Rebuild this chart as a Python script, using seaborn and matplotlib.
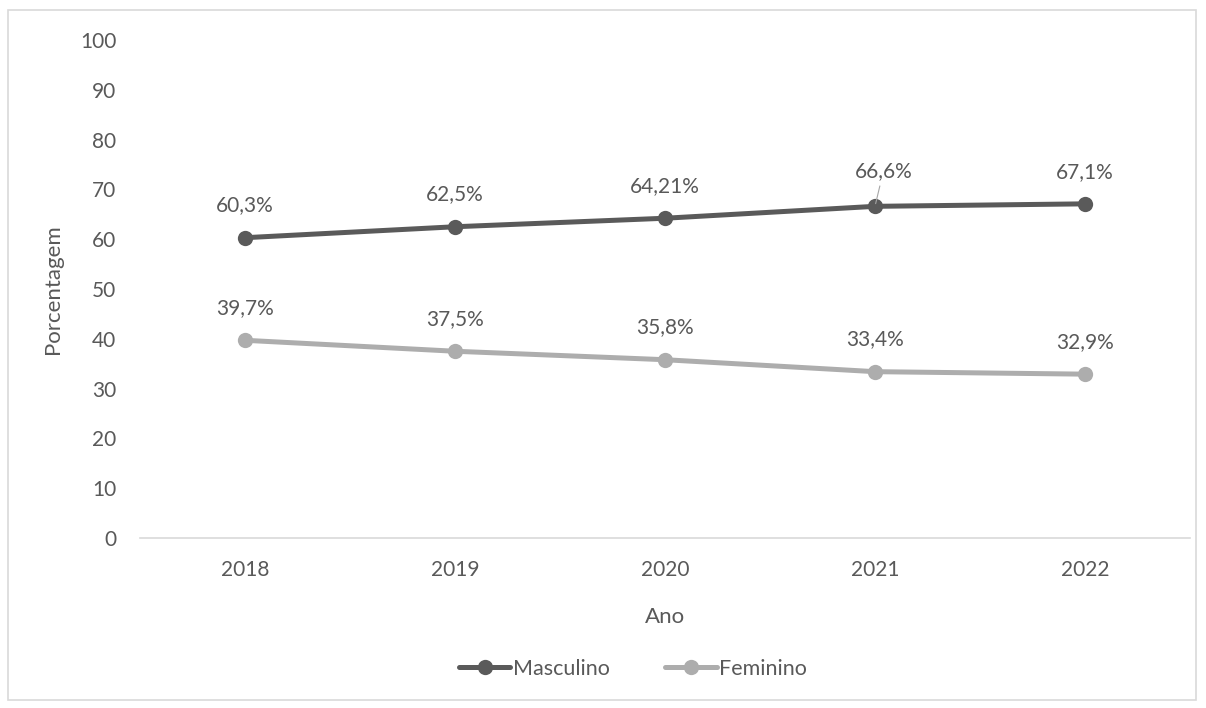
import matplotlib
matplotlib.use("Agg")
import matplotlib.pyplot as plt
from matplotlib.patches import Rectangle
import pandas as pd
import seaborn as sns

anos = [2018, 2019, 2020, 2021, 2022]
masculino = [60.3, 62.5, 64.21, 66.6, 67.1]
feminino = [39.7, 37.5, 35.8, 33.4, 32.9]
rotulos_masc = ["60,3%", "62,5%", "64,21%", "66,6%", "67,1%"]
rotulos_fem = ["39,7%", "37,5%", "35,8%", "33,4%", "32,9%"]

df = pd.DataFrame({
    "Ano": anos * 2,
    "Porcentagem": masculino + feminino,
    "Sexo": ["Masculino"] * len(anos) + ["Feminino"] * len(anos),
})

sns.set_theme(style="white")
plt.rcParams["font.family"] = ["Lato", "DejaVu Sans"]

txt = "#595959"
cores = {"Masculino": "#5A5A5A", "Feminino": "#ADADAD"}
fs = 15
lw = 3.6
ms = 11

fig = plt.figure(figsize=(12.06, 7.08), dpi=100)
ax = fig.add_axes([140 / 1206, 1 - 538 / 708, 1050 / 1206, 498 / 708])

sns.lineplot(data=df, x="Ano", y="Porcentagem", hue="Sexo", palette=cores,
             marker="o", markersize=ms, markeredgewidth=0, linewidth=lw,
             ax=ax, legend=False)

ax.set_xlim(2017.5, 2022.5)
ax.set_ylim(0, 100)
ax.set_yticks(range(0, 101, 10))
ax.set_xticks(anos)
ax.tick_params(axis="both", length=0, colors=txt, labelsize=fs)
ax.tick_params(axis="x", pad=16)
ax.tick_params(axis="y", pad=17)
for s in ["top", "right", "left"]:
    ax.spines[s].set_visible(False)
ax.spines["bottom"].set_color("#D9D9D9")
ax.spines["bottom"].set_linewidth(1.2)

ax.set_xlabel("Ano", fontsize=fs + 1, color=txt, labelpad=19)
ax.set_ylabel("Porcentagem", fontsize=fs + 1, color=txt, labelpad=12)

# rótulos de dados
for a, v, r in zip(anos, masculino, rotulos_masc):
    if a == 2021:
        ax.annotate(r, xy=(a, v), xytext=(6, 18), textcoords="offset points",
                    ha="center", va="bottom", fontsize=fs, color=txt,
                    arrowprops=dict(arrowstyle="-", color="#A6A6A6", lw=0.8,
                                    shrinkA=1, shrinkB=2))
    else:
        ax.annotate(r, xy=(a, v), xytext=(0, 16), textcoords="offset points",
                    ha="center", va="bottom", fontsize=fs, color=txt)
for a, v, r in zip(anos, feminino, rotulos_fem):
    ax.annotate(r, xy=(a, v), xytext=(0, 16), textcoords="offset points",
                ha="center", va="bottom", fontsize=fs, color=txt)

# legenda
handles = [plt.Line2D([], [], color=cores[k], marker="o", markersize=ms,
                      markeredgewidth=0, linewidth=lw) for k in ["Masculino", "Feminino"]]
fig.legend(handles, ["Masculino", "Feminino"], loc="center",
           bbox_to_anchor=(633 / 1206, 1 - 669 / 708), ncol=2, frameon=False,
           fontsize=fs + 0.5, labelcolor=txt, handlelength=2.4, handletextpad=0.1,
           columnspacing=2.6)

# moldura
fig.patches.append(Rectangle((8 / 1206, 1 - 700 / 708), 1188 / 1206, 690 / 708,
                             transform=fig.transFigure, fill=False,
                             edgecolor="#D9D9D9", linewidth=1.2))

fig.savefig("out.png", dpi=100)
